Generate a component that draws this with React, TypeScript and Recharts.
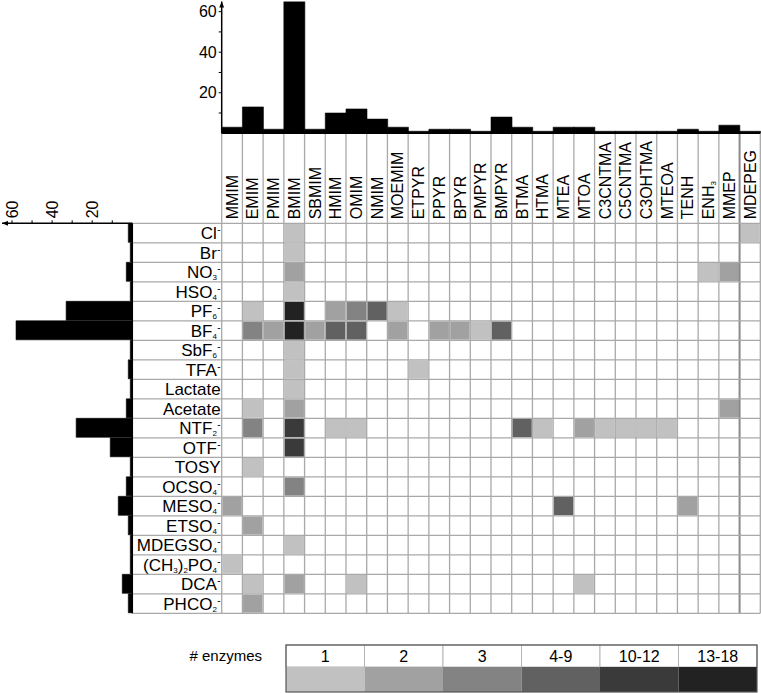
import React from "react";
import { BarChart, Bar, XAxis, YAxis, ScatterChart, Scatter, Legend, ReferenceLine } from "recharts";

const FONT = "'Liberation Sans', Arial, Helvetica, sans-serif";

// ---------- data ----------
const cations = ["MMIM","EMIM","PMIM","BMIM","SBMIM","HMIM","OMIM","NMIM","MOEMIM","ETPYR","PPYR","BPYR","PMPYR","BMPYR","BTMA","HTMA","MTEA","MTOA","C3CNTMA","C5CNTMA","C3OHTMA","MTEOA","TENH","ENH_3","MMEP","MDEPEG"];
const cationCounts = [3,13,2,65,2,10,12,7,3,1,2,2,1,8,3,1,3,3,1,1,1,1,2,1,4,1];

const anions = ["Cl^-","Br^-","NO_3^-","HSO_4^-","PF_6^-","BF_4^-","SbF_6^-","TFA^-","Lactate","Acetate","NTF_2^-","OTF^-","TOSY","OCSO_4^-","MESO_4^-","ETSO_4^-","MDEGSO_4^-","(CH_3)_2PO_4^-","DCA^-","PHCO_2^-"];
const anionCounts = [2,1,3,1,33,58,1,2,1,3,28,11,1,3,7,2,1,1,5,2];

// enzyme-count class per cell (0 = none, 1..6 = legend classes)
const rowCl      = [0,0,0,1,0,0,0,0,0,0,0,0,0,0,0,0,0,0,0,0,0,0,0,0,0,1];
const rowBr      = [0,0,0,1,0,0,0,0,0,0,0,0,0,0,0,0,0,0,0,0,0,0,0,0,0,0];
const rowNO3     = [0,0,0,2,0,0,0,0,0,0,0,0,0,0,0,0,0,0,0,0,0,0,0,1,2,0];
const rowHSO4    = [0,0,0,1,0,0,0,0,0,0,0,0,0,0,0,0,0,0,0,0,0,0,0,0,0,0];
const rowPF6     = [0,1,0,6,0,2,3,4,1,0,0,0,0,0,0,0,0,0,0,0,0,0,0,0,0,0];
const rowBF4     = [0,3,2,6,2,4,4,0,2,0,2,2,1,4,0,0,0,0,0,0,0,0,0,0,0,0];
const rowSbF6    = [0,0,0,1,0,0,0,0,0,0,0,0,0,0,0,0,0,0,0,0,0,0,0,0,0,0];
const rowTFA     = [0,0,0,1,0,0,0,0,0,1,0,0,0,0,0,0,0,0,0,0,0,0,0,0,0,0];
const rowLactate = [0,0,0,1,0,0,0,0,0,0,0,0,0,0,0,0,0,0,0,0,0,0,0,0,0,0];
const rowAcetate = [0,1,0,2,0,0,0,0,0,0,0,0,0,0,0,0,0,0,0,0,0,0,0,0,2,0];
const rowNTF2    = [0,3,0,5,0,1,1,0,0,0,0,0,0,0,4,1,0,2,1,1,1,1,0,0,0,0];
const rowOTF     = [0,0,0,5,0,0,0,0,0,0,0,0,0,0,0,0,0,0,0,0,0,0,0,0,0,0];
const rowTOSY    = [0,1,0,0,0,0,0,0,0,0,0,0,0,0,0,0,0,0,0,0,0,0,0,0,0,0];
const rowOCSO4   = [0,0,0,3,0,0,0,0,0,0,0,0,0,0,0,0,0,0,0,0,0,0,0,0,0,0];
const rowMESO4   = [2,0,0,0,0,0,0,0,0,0,0,0,0,0,0,0,4,0,0,0,0,0,2,0,0,0];
const rowETSO4   = [0,2,0,0,0,0,0,0,0,0,0,0,0,0,0,0,0,0,0,0,0,0,0,0,0,0];
const rowMDEGSO4 = [0,0,0,1,0,0,0,0,0,0,0,0,0,0,0,0,0,0,0,0,0,0,0,0,0,0];
const rowDMP     = [1,0,0,0,0,0,0,0,0,0,0,0,0,0,0,0,0,0,0,0,0,0,0,0,0,0];
const rowDCA     = [0,1,0,2,0,0,1,0,0,0,0,0,0,0,0,0,0,1,0,0,0,0,0,0,0,0];
const rowPHCO2   = [0,2,0,0,0,0,0,0,0,0,0,0,0,0,0,0,0,0,0,0,0,0,0,0,0,0];
const cellRows = [rowCl,rowBr,rowNO3,rowHSO4,rowPF6,rowBF4,rowSbF6,rowTFA,rowLactate,rowAcetate,rowNTF2,rowOTF,rowTOSY,rowOCSO4,rowMESO4,rowETSO4,rowMDEGSO4,rowDMP,rowDCA,rowPHCO2];

const levelLabels = ["1","2","3","4-9","10-12","13-18"];
const levelColors = ["#c1c1c1","#a1a1a1","#838383","#616161","#3a3a3a","#222222"];
const countTicks = [10,20,30,40,50,60];
const countLabels = [20,40,60];

// ---------- layout ----------
const W = 761;
const H = 693;
const GRID_LEFT = 221.7;
const GRID_RIGHT = 760.3;
const GRID_TOP = 223.3;
const GRID_BOTTOM = 613.3;
const LABEL_LEFT = 132.3;
const LABEL_TOP = 133.3;
const CW = (GRID_RIGHT - GRID_LEFT) / cations.length;
const RH = (GRID_BOTTOM - GRID_TOP) / anions.length;
const GRID_COLOR = "#a9a9a9";

const topData = cations.map((name, i) => ({ name, count: cationCounts[i] }));
const leftData = anions.map((name, i) => ({ name, count: anionCounts[i] }));
const cellData: { col: number; row: number; level: number }[] = [];
cellRows.forEach((r, ri) =>
  r.forEach((lv, ci) => {
    if (lv > 0) cellData.push({ col: ci + 0.5, row: ri + 0.5, level: lv });
  })
);
const colTicks = cations.map((_, i) => i + 0.5);
const rowTicks = anions.map((_, i) => i + 0.5);

function richText(label: string) {
  const SUB = 2.2;
  const SUP = -6;
  const out: React.ReactNode[] = [];
  let shift = 0;
  let i = 0;
  let k = 0;
  while (i < label.length) {
    const ch = label[i];
    if (ch === "_" || ch === "^") {
      const s = label[i + 1];
      const target = ch === "_" ? SUB : SUP;
      out.push(
        <tspan key={k++} dx={ch === "^" ? 0.5 : undefined} dy={target - shift} fontSize={ch === "_" ? 8 : 10}>{s}</tspan>
      );
      shift = target;
      i += 2;
    } else {
      let j = i;
      while (j < label.length && label[j] !== "_" && label[j] !== "^") j++;
      out.push(
        <tspan key={k++} dy={shift !== 0 ? -shift : undefined}>{label.slice(i, j)}</tspan>
      );
      shift = 0;
      i = j;
    }
  }
  return out;
}

const ColTick = (props: any) => {
  const { x, y, payload } = props;
  const idx = Math.floor(payload.value);
  const left = x - CW / 2;
  const sep = idx === cations.length - 1;
  return (
    <g>
      <line x1={left} x2={left} y1={LABEL_TOP} y2={GRID_BOTTOM} stroke={sep ? "#8a8a8a" : GRID_COLOR} strokeWidth={sep ? 2 : 1.3} />
      {idx === cations.length - 1 && (
        <line x1={left + CW} x2={left + CW} y1={LABEL_TOP} y2={GRID_BOTTOM} stroke={GRID_COLOR} strokeWidth={1.3} />
      )}
      <text transform={`translate(${x},${y}) rotate(-90)`} x={0} y={5.6} textAnchor="start" fontSize={16} fontFamily={FONT} fill="#000">
        {richText(cations[idx])}
      </text>
    </g>
  );
};

const RowTick = (props: any) => {
  const { x, y, payload } = props;
  const idx = Math.floor(payload.value);
  const top = y - RH / 2;
  return (
    <g>
      <line x1={LABEL_LEFT} x2={GRID_RIGHT} y1={top} y2={top} stroke={GRID_COLOR} strokeWidth={1.3} />
      {idx === anions.length - 1 && (
        <line x1={LABEL_LEFT} x2={GRID_RIGHT} y1={top + RH} y2={top + RH} stroke={GRID_COLOR} strokeWidth={1.3} />
      )}
      <text x={x + 1} y={y + 6} textAnchor="end" fontSize={17} fontFamily={FONT} fill="#000">
        {richText(anions[idx])}
      </text>
    </g>
  );
};

const LeftCountTick = (props: any) => {
  const { x, y, payload } = props;
  if (!countLabels.includes(payload.value)) return <g />;
  return (
    <text transform={`translate(${x},${y}) rotate(-90)`} x={0} y={5.6} textAnchor="start" fontSize={16} fontFamily={FONT} fill="#000">
      {payload.value}
    </text>
  );
};

const renderCell = (props: any) => {
  const { cx, cy, payload } = props;
  return (
    <rect x={cx - CW / 2 + 0.65} y={cy - RH / 2 + 0.65} width={CW - 1.3} height={RH - 1.3} fill={levelColors[payload.level - 1]} />
  );
};

const LEG_X = 286;
const LEG_W = 78.5;
const renderLegend = () => (
  <svg width={W} height={63} style={{ display: "block" }}>
    <text x={262} y={31} textAnchor="end" fontSize={15} fontFamily={FONT} fill="#000"># enzymes</text>
    {levelLabels.map((lab, i) => (
      <g key={lab}>
        <rect x={LEG_X + i * LEG_W} y={15} width={LEG_W} height={22} fill="#fff" stroke="#b5b5b5" strokeWidth={1} />
        <text x={LEG_X + i * LEG_W + LEG_W / 2} y={32} textAnchor="middle" fontSize={16} fontFamily={FONT} fill="#000">{lab}</text>
        <rect x={LEG_X + i * LEG_W} y={37} width={LEG_W} height={25} fill={levelColors[i]} />
      </g>
    ))}
    <rect x={LEG_X} y={15} width={LEG_W * levelLabels.length} height={47} fill="none" stroke="#555" strokeWidth={1.2} />
  </svg>
);

export default function App() {
  const arrowAxis = { stroke: "#000", strokeWidth: 1.5, markerStart: "url(#axisArrow)" };
  return (
    <div style={{ position: "absolute", left: 0, top: 0, width: W, height: H, background: "#fff", fontFamily: FONT }}>
      <svg width={0} height={0} style={{ position: "absolute" }}>
        <defs>
          <marker id="axisArrow" viewBox="0 0 10 8" refX={10} refY={4} markerWidth={6} markerHeight={4.8} markerUnits="userSpaceOnUse" orient="auto-start-reverse">
            <path d="M0,0 L10,4 L0,8 z" fill="#000" />
          </marker>
        </defs>
      </svg>

      {/* heat map */}
      <div style={{ position: "absolute", left: 0, top: 0 }}>
        <ScatterChart width={W} height={H} margin={{ top: LABEL_TOP, left: LABEL_LEFT, right: W - GRID_RIGHT, bottom: H - GRID_BOTTOM }}>
          <XAxis type="number" dataKey="col" orientation="top" domain={[0, cations.length]} ticks={colTicks} interval={0} height={GRID_TOP - LABEL_TOP} tick={<ColTick />} tickLine={false} axisLine={false} tickSize={0} tickMargin={4} />
          <YAxis type="number" dataKey="row" domain={[0, anions.length]} reversed ticks={rowTicks} interval={0} width={GRID_LEFT - LABEL_LEFT} tick={<RowTick />} tickLine={false} axisLine={false} tickSize={0} tickMargin={2} />
          <Scatter data={cellData} shape={renderCell} isAnimationActive={false} />
          <Legend layout="horizontal" verticalAlign="middle" align="center" content={renderLegend} wrapperStyle={{ left: 0, top: 630, width: W, height: 63 }} />
        </ScatterChart>
      </div>

      {/* top bars: cations */}
      <div style={{ position: "absolute", left: 0, top: 0 }}>
        <BarChart width={W} height={140} data={topData} margin={{ top: 1.5, right: W - GRID_RIGHT, bottom: 0, left: 0 }} barCategoryGap={0} barGap={0}>
          <XAxis dataKey="name" type="category" tick={false} tickLine={false} height={140 - LABEL_TOP} axisLine={{ stroke: "#000", strokeWidth: 1.5 }} />
          <YAxis type="number" domain={[0, 65]} ticks={countTicks} interval={0} width={GRID_LEFT} tickFormatter={(v: number) => (countLabels.includes(v) ? String(v) : "")} tick={{ fontSize: 16, fill: "#000", fontFamily: FONT }} tickLine={{ stroke: "#000" }} tickSize={3} tickMargin={2} axisLine={arrowAxis} allowDataOverflow />
          <Bar dataKey="count" fill="#000" stroke="#000" strokeWidth={0.6} isAnimationActive={false} />
        </BarChart>
      </div>

      {/* left bars: anions */}
      <div style={{ position: "absolute", left: 0, top: 0 }}>
        <BarChart layout="vertical" width={135} height={H} data={leftData} margin={{ top: 0, left: 2, right: 135 - LABEL_LEFT, bottom: H - GRID_BOTTOM }} barCategoryGap={0} barGap={0}>
          <XAxis type="number" orientation="top" reversed domain={[0, 65]} ticks={countTicks} interval={0} height={GRID_TOP} tick={<LeftCountTick />} tickSize={3} tickMargin={2} tickLine={{ stroke: "#000" }} axisLine={arrowAxis} />
          <YAxis type="category" dataKey="name" hide />
          <Bar dataKey="count" fill="#000" stroke="#000" strokeWidth={0.6} isAnimationActive={false} />
          <ReferenceLine x={0} stroke="#000" strokeWidth={1.5} />
        </BarChart>
      </div>
    </div>
  );
}
